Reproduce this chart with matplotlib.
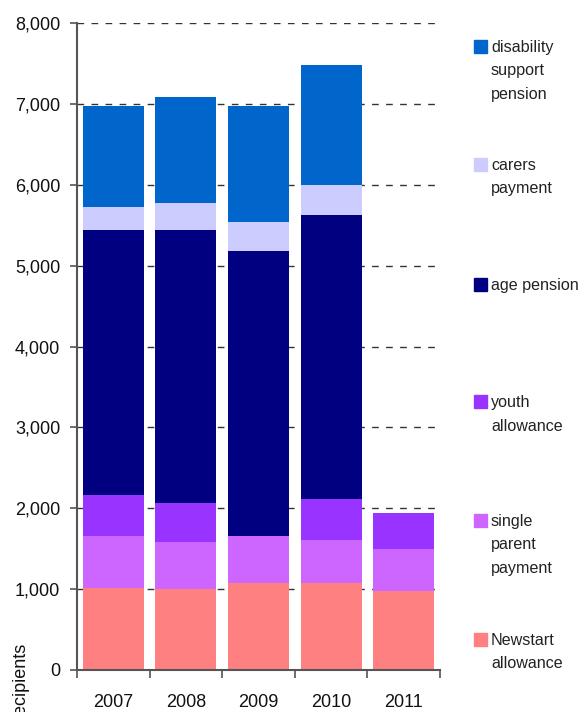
import matplotlib
matplotlib.use("Agg")
import matplotlib.pyplot as plt
import numpy as np
from matplotlib.patches import Rectangle
from matplotlib.ticker import FuncFormatter

plt.rcParams["font.family"] = ["Liberation Sans", "DejaVu Sans"]

years = ["2007", "2008", "2009", "2010", "2011"]
newstart = [1020, 1000, 1075, 1070, 980]
single_parent = [640, 585, 585, 540, 520]
youth = [505, 480, 0, 505, 447]
age_pension = [3280, 3380, 3525, 3505, 0]
carers = [275, 325, 350, 380, 0]
disability = [1250, 1310, 1435, 1475, 0]

series = [
    ("Newstart\nallowance", newstart, "#FF8080"),
    ("single\nparent\npayment", single_parent, "#CC66FF"),
    ("youth\nallowance", youth, "#9933FF"),
    ("age pension", age_pension, "#000080"),
    ("carers\npayment", carers, "#CCCCFF"),
    ("disability\nsupport\npension", disability, "#0066CC"),
]

W, H = 580, 712
fig = plt.figure(figsize=(W / 100, H / 100), dpi=100)
ax = fig.add_axes([77 / W, 1 - 670 / H, (440 - 77) / W, (670 - 23) / H])

x = np.arange(len(years))
bottom = np.zeros(len(years))
for label, vals, color in series:
    ax.bar(x, vals, bottom=bottom, width=0.84, color=color, zorder=2)
    bottom += np.array(vals)

ax.set_xlim(-0.5, len(years) - 0.5)
ax.set_ylim(0, 8000)
ax.set_yticks(np.arange(0, 8001, 1000))
ax.yaxis.set_major_formatter(FuncFormatter(lambda v, p: f"{int(v):,}"))
ax.set_xticks(x)
ax.set_xticklabels(years)
ax.set_xticks(np.arange(-0.5, len(years), 1), minor=True)

ax.tick_params(axis="x", which="major", length=0, pad=17, labelsize=13, colors="#111111")
ax.tick_params(axis="x", which="minor", length=6, width=1.2, color="#555555", direction="out")
ax.tick_params(axis="y", length=5, width=1.2, color="#555555", pad=7, labelsize=13, labelcolor="#111111")

for s in ["top", "right"]:
    ax.spines[s].set_visible(False)
for s in ["left", "bottom"]:
    ax.spines[s].set_color("#555555")
    ax.spines[s].set_linewidth(1.5)

ax.yaxis.grid(True, linestyle=(0, (4.8, 5.3)), color="#333333", linewidth=1, zorder=0)
ax.set_axisbelow(True)

# y label, clipped at the bottom edge like the original
fig.text(20 / W, 1 - 642 / H, "Recipients", rotation=90, va="top", ha="center",
         fontsize=13, color="#111111")

# legend drawn by hand, top entry first, one text per line
legend_tops = [40, 158, 278, 395, 514, 633]
for (label, vals, color), top in zip(series[::-1], legend_tops):
    fig.add_artist(Rectangle((474 / W, 1 - (top + 12.5) / H), 12.5 / W, 12.5 / H,
                             transform=fig.transFigure, color=color))
    for i, line in enumerate(label.split("\n")):
        fig.text(491 / W, 1 - (top + 12 + 23.5 * i) / H, line, va="baseline", ha="left",
                 fontsize=11.6, color="#222222")

fig.savefig("out.png", dpi=100)
